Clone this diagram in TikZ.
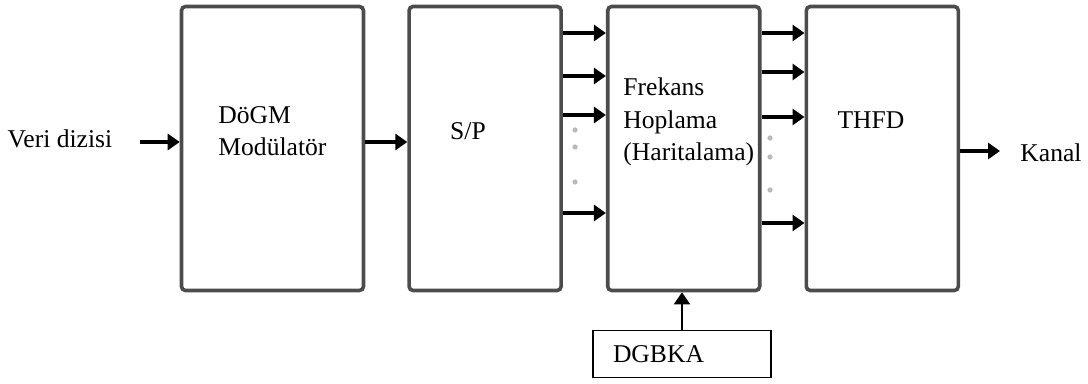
\documentclass[tikz,border=0pt]{standalone}
\usepackage{fontspec}
\setmainfont{Liberation Serif}
\usetikzlibrary{arrows.meta,positioning,calc}

\begin{document}
\begin{tikzpicture}[
    x=0.5pt, y=-0.5pt,
    >={Triangle[length=6pt,width=8pt]},
    font=\fontsize{12.8}{16.2}\selectfont,
    blk/.style={draw=black!70, line width=1.8pt, rounded corners=2pt, minimum height=142pt, inner sep=0pt},
    wire/.style={->, line width=1.6pt},
    lbl/.style={align=left, inner sep=0pt}
]
\useasboundingbox (0,0) rectangle (1088,384);

% main blocks
\node[blk, minimum width=91pt] (mod) at (272.5,148.5) {};
\node[blk, minimum width=76pt, right=21pt of mod] (sp) {};
\node[blk, minimum width=76pt, right=21.5pt of sp] (hop) {};
\node[blk, minimum width=76pt, right=21.5pt of hop] (thfd) {};
\node[draw, line width=0.8pt, minimum width=89pt, minimum height=23.5pt, inner xsep=10pt, text width=69pt, align=left] (dgbka) at (682,354) {DGBKA};

% texts
\node[lbl] (veri) at (60,139) {Veri dizisi};
\node[lbl, anchor=west] (modtxt) at (218,131) {DöGM\\Modülatör};
\node[lbl] (sptxt) at (468,131) {S/P};
\node[lbl, anchor=west] (hoptxt) at (623,122) {Frekans\\Hoplama\\(Haritalama)};
\node[lbl] (thfdtxt) at (871,120) {THFD};
\node[lbl] (kanal) at (1051,153) {Kanal};

% connectors
\draw[wire] ([xshift=13.5pt,yshift=-1.5pt]veri.east) -- ([yshift=3.25pt]mod.west);
\draw[wire] ([yshift=3.25pt]mod.east) -- ([yshift=3.25pt]sp.west);
\foreach \dy in {57.75,36.25,16.75,-32.25}
    \draw[wire] ([yshift=\dy pt]sp.east) -- ([yshift=\dy pt]hop.west);
\foreach \dy in {57.75,38.25,15.75,-37.25}
    \draw[wire] ([yshift=\dy pt]hop.east) -- ([yshift=\dy pt]thfd.west);
\draw[wire] ([yshift=-1.25pt]thfd.east) -- ([xshift=-10pt,yshift=-1.25pt]thfd.east -| kanal.west);
\draw[->, line width=0.9pt] (dgbka.north) -- (dgbka.north |- hop.south);

% dots
\foreach \y in {130,147,182}
    \fill[gray!55] (575,\y) circle (1.3pt);
\foreach \y in {138,157,190}
    \fill[gray!55] (770,\y) circle (1.3pt);
\end{tikzpicture}
\end{document}
